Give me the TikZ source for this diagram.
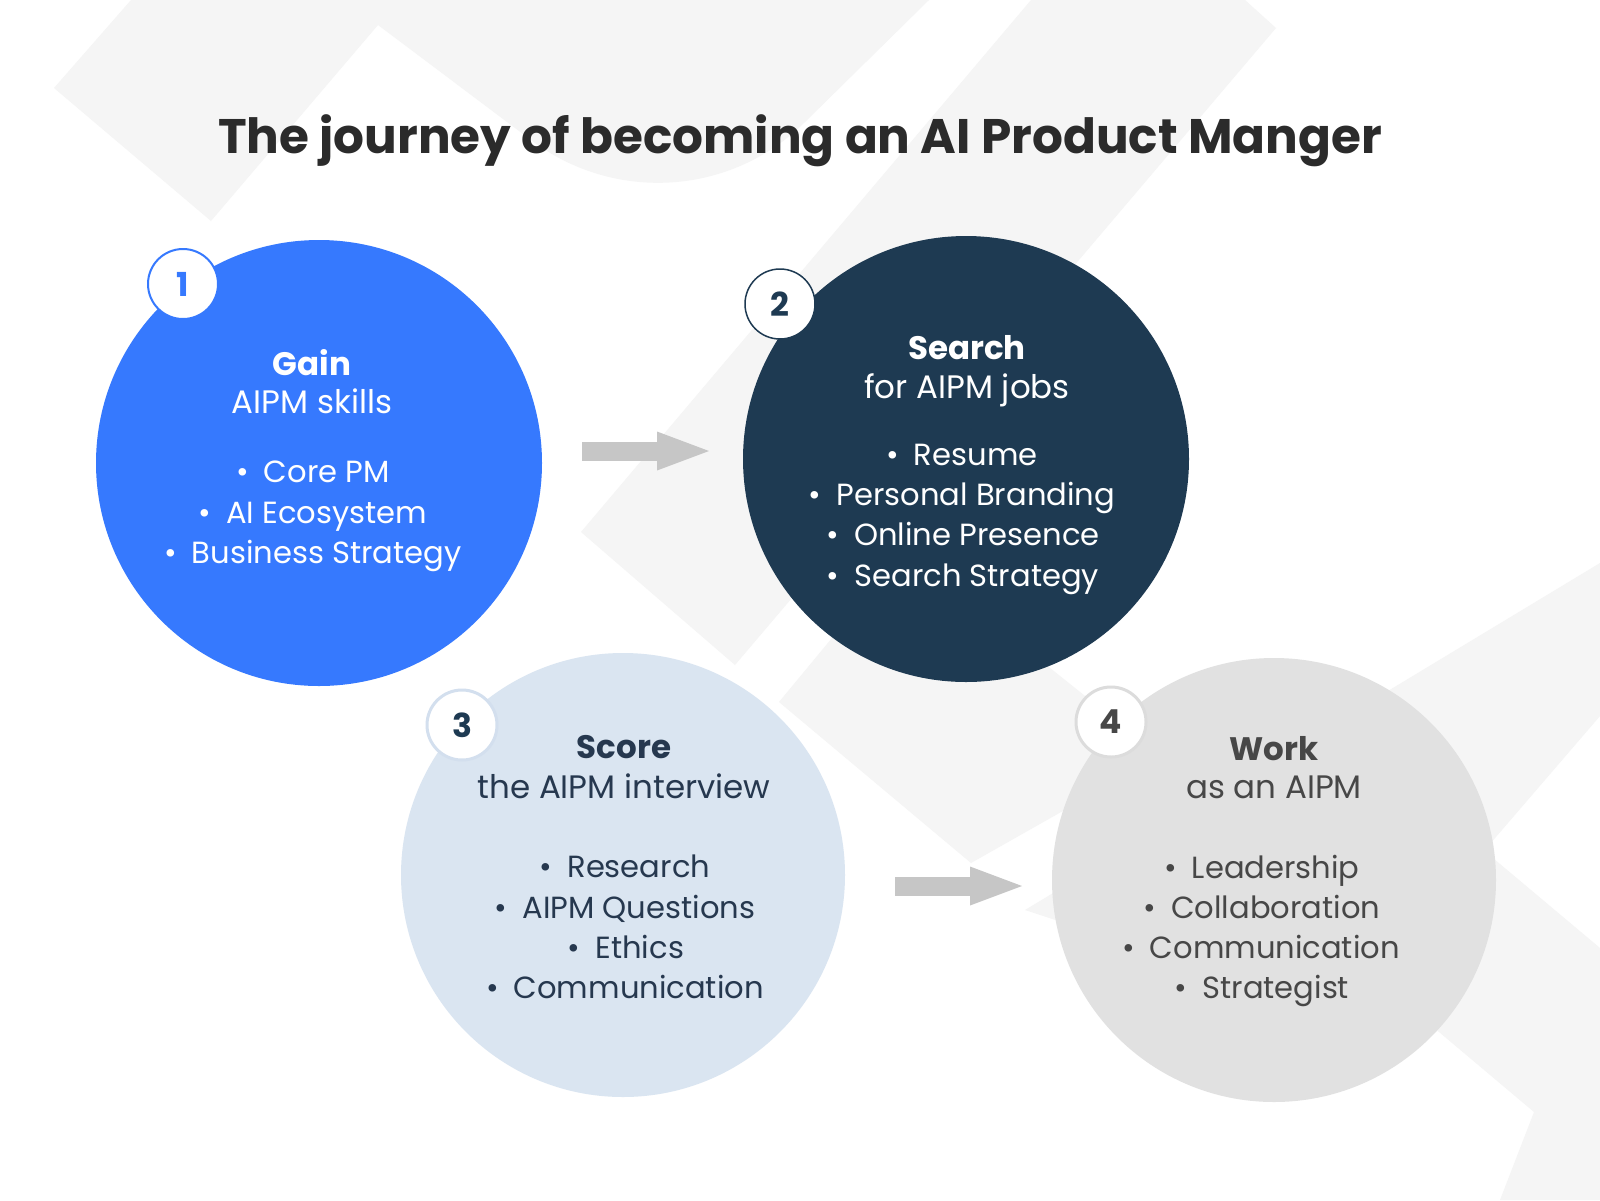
\documentclass[tikz,border=0pt]{standalone}
\usepackage{fontspec}
\setmainfont{Poppins}
\usetikzlibrary{arrows.meta}
\definecolor{bgband}{HTML}{F5F5F5}
\definecolor{cblue}{HTML}{3679FE}
\definecolor{cnavy}{HTML}{1E3A52}
\definecolor{clight}{HTML}{DAE5F1}
\definecolor{cgrey}{HTML}{E1E1E1}
\definecolor{arrowgrey}{HTML}{C6C6C6}
\definecolor{titlec}{HTML}{2B2B2B}
\definecolor{navytext}{HTML}{26384F}
\definecolor{greytext}{HTML}{474747}
\definecolor{lightring}{HTML}{D3DFEE}
\definecolor{greyring}{HTML}{DCDCDC}
\newcommand{\bulitem}{•\hspace{15pt}}
\begin{document}
\begin{tikzpicture}[x=1pt,y=-1pt,
  bigcircle/.style={circle,inner sep=0pt,minimum size=446pt},
  numcircle/.style={circle,inner sep=0pt,minimum size=70pt,fill=white,font=\fontsize{33}{33}\selectfont\bfseries},
  headtxt/.style={anchor=base,inner sep=0pt,font=\fontsize{32.5}{40}\selectfont\bfseries},
  subtxt/.style={anchor=base,inner sep=0pt,font=\fontsize{32.5}{40}\selectfont},
  bodytxt/.style={anchor=base,inner sep=0pt,font=\fontsize{30.6}{40}\selectfont},
  blockarrow/.style={draw=arrowgrey,line width=19pt,-{Triangle[length=52pt,width=39pt,line width=0pt,fill=arrowgrey]}},
  band/.style={fill=bgband}
]
\useasboundingbox (0,0) rectangle (1600,1200);
\fill[white] (0,0) rectangle (1600,1200);
% background bands
\fill[band] (131,0) -- (54,88) -- (211,221) -- (378,25) -- (531,140) .. controls (614,203) and (731,196) .. (805,122) -- (929,0) -- cycle;
\fill[band] (1031,0) -- (1245,0) -- (1276,28) -- (735,665) -- (581,532) -- cycle;
\fill[band] (779,702) -- (904,551) -- (1160,756) -- (971,863) -- cycle;
\fill[band] (1025,910) -- (1600,563) -- (1600,716) -- (1440,902) -- (1300,1000) -- cycle;
\fill[band] (1350,738) -- (1600,948) -- (1600,1200) -- (1500,1200) -- (1534,1112) -- (1350,957) -- cycle;

% title
\node[anchor=base,inner sep=0pt,text=titlec,font=\fontsize{48.5}{58}\selectfont\bfseries] (title) at (800,153) {The journey of becoming an AI Product Manger};

% arrows
\coordinate (a1s) at (582,451);
\coordinate (a1e) at (709,451);
\coordinate (a2s) at (895,886);
\coordinate (a2e) at (1022,886);
\draw[blockarrow] (a1s) -- (a1e);
\draw[blockarrow] (a2s) -- (a2e);

% circles
\node[bigcircle,fill=cblue] (c1) at (319,463) {};
\node[bigcircle,fill=cnavy] (c2) at (966,459) {};
\node[bigcircle,fill=clight,minimum size=444pt] (c3) at (623,875) {};
\node[bigcircle,fill=cgrey,minimum size=444pt] (c4) at (1274,880) {};

% number badges
\node[numcircle,draw=cblue,line width=2pt,text=cblue] (n1) at (183,284) {1};
\node[numcircle,draw=cnavy,line width=1.5pt,text=cnavy] (n2) at (780,304) {2};
\node[numcircle,draw=lightring,line width=3pt,text=cnavy] (n3) at (462,725) {3};
\node[numcircle,draw=greyring,line width=3pt,text=greytext] (n4) at (1111,722) {4};

% circle 1 text
\begin{scope}[text=white]
\node[headtxt] (c1h) at (312,375) {Gain};
\node[subtxt] (c1s) at (312,413) {AIPM skills};
\node[bodytxt] (c1a) at (313,482) {\bulitem Core PM};
\node[bodytxt] (c1b) at (313,523) {\bulitem AI Ecosystem};
\node[bodytxt] (c1c) at (313,563) {\bulitem Business Strategy};
\end{scope}

% circle 2 text
\begin{scope}[text=white]
\node[headtxt] (c2h) at (967,359) {Search};
\node[subtxt] (c2s) at (967,398) {for AIPM jobs};
\node[bodytxt] (c2a) at (962,465) {\bulitem Resume};
\node[bodytxt] (c2b) at (962,505) {\bulitem Personal Branding};
\node[bodytxt] (c2c) at (963,545) {\bulitem Online Presence};
\node[bodytxt] (c2d) at (963,586) {\bulitem Search Strategy};
\end{scope}

% circle 3 text
\begin{scope}[text=navytext]
\node[headtxt] (c3h) at (624,758) {Score};
\node[subtxt] (c3s) at (624,798) {the AIPM interview};
\node[bodytxt] (c3a) at (625,877) {\bulitem Research};
\node[bodytxt] (c3b) at (625,918) {\bulitem AIPM Questions};
\node[bodytxt] (c3c) at (626,958) {\bulitem Ethics};
\node[bodytxt] (c3d) at (625,998) {\bulitem Communication};
\end{scope}

% circle 4 text
\begin{scope}[text=greytext]
\node[headtxt] (c4h) at (1274,760) {Work};
\node[subtxt] (c4s) at (1274,798) {as an AIPM};
\node[bodytxt] (c4a) at (1262,878) {\bulitem Leadership};
\node[bodytxt] (c4b) at (1262,918) {\bulitem Collaboration};
\node[bodytxt] (c4c) at (1261,958) {\bulitem Communication};
\node[bodytxt] (c4d) at (1262,998) {\bulitem Strategist};
\end{scope}
\end{tikzpicture}
\end{document}
